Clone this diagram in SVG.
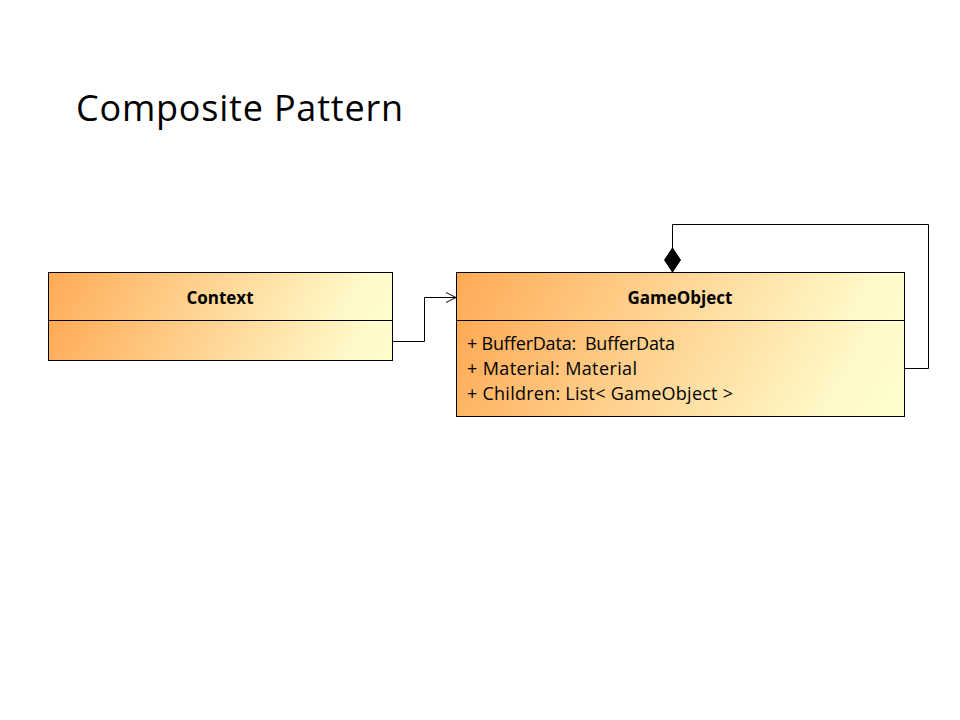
<svg xmlns="http://www.w3.org/2000/svg" width="960" height="720" viewBox="0 0 960 720">
<style>
.box{stroke:#000;stroke-width:1}
.hdr{font-family:"Open Sans","Liberation Sans",sans-serif;font-weight:bold;font-size:17px;fill:#000;text-anchor:middle}
.attr{font-family:"Open Sans","Liberation Sans",sans-serif;font-size:18px;fill:#000}
.title{font-family:"Open Sans","Liberation Sans",sans-serif;font-size:36px;fill:#000}
.conn{fill:none;stroke:#000;stroke-width:1}
</style>
<defs>
<linearGradient id="g1" gradientUnits="userSpaceOnUse" x1="48" y1="272" x2="370" y2="460">
<stop offset="0" stop-color="#FFAA55"/>
<stop offset="0.75" stop-color="#FFFACA"/>
<stop offset="1" stop-color="#FFFFCC"/>
</linearGradient>
<linearGradient id="g2" gradientUnits="userSpaceOnUse" x1="48" y1="320" x2="370" y2="508">
<stop offset="0" stop-color="#FFAA55"/>
<stop offset="0.75" stop-color="#FFFACA"/>
<stop offset="1" stop-color="#FFFFCC"/>
</linearGradient>
<linearGradient id="g3" gradientUnits="userSpaceOnUse" x1="456" y1="272" x2="880" y2="520">
<stop offset="0" stop-color="#FFAA55"/>
<stop offset="0.75" stop-color="#FFFACA"/>
<stop offset="1" stop-color="#FFFFCC"/>
</linearGradient>
<linearGradient id="g4" gradientUnits="userSpaceOnUse" x1="456" y1="320" x2="880" y2="568">
<stop offset="0" stop-color="#FFAA55"/>
<stop offset="0.75" stop-color="#FFFACA"/>
<stop offset="1" stop-color="#FFFFCC"/>
</linearGradient>
<marker id="open" viewBox="0 0 12 12" refX="11" refY="6" markerWidth="12" markerHeight="12" markerUnits="userSpaceOnUse" orient="auto">
<path d="M1,1 L11,6 L1,11" fill="none" stroke="#000" stroke-width="1"/>
</marker>
</defs>
<rect width="960" height="720" fill="#fff"/>
<text class="title" x="76" y="121" textLength="327">Composite Pattern</text>
<g id="Context">
<rect class="box" x="48.5" y="272.5" width="344" height="48" fill="url(#g1)"/>
<rect class="box" x="48.5" y="320.5" width="344" height="40" fill="url(#g2)"/>
<text class="hdr" x="220" y="304">Context</text>
</g>
<g id="GameObject">
<rect class="box" x="456.5" y="272.5" width="448" height="48" fill="url(#g3)"/>
<rect class="box" x="456.5" y="320.5" width="448" height="96" fill="url(#g4)"/>
<text class="hdr" x="680" y="304">GameObject</text>
<text class="attr" x="467" y="350" textLength="208" xml:space="preserve">+ BufferData:  BufferData</text>
<text class="attr" x="467" y="375" textLength="170">+ Material: Material</text>
<text class="attr" x="467" y="400" textLength="266">+ Children: List&lt; GameObject &gt;</text>
</g>
<g id="connectors">
<polyline class="conn" points="392,341.5 424.5,341.5 424.5,297.5 456,297.5" marker-end="url(#open)"/>
<polyline class="conn" points="904,368.5 928.5,368.5 928.5,224.5 672.5,224.5 672.5,248"/>
<polygon points="672.5,248 680.5,260 672.5,272 664.5,260" fill="#000" stroke="#000" stroke-width="1"/>
</g>
</svg>
